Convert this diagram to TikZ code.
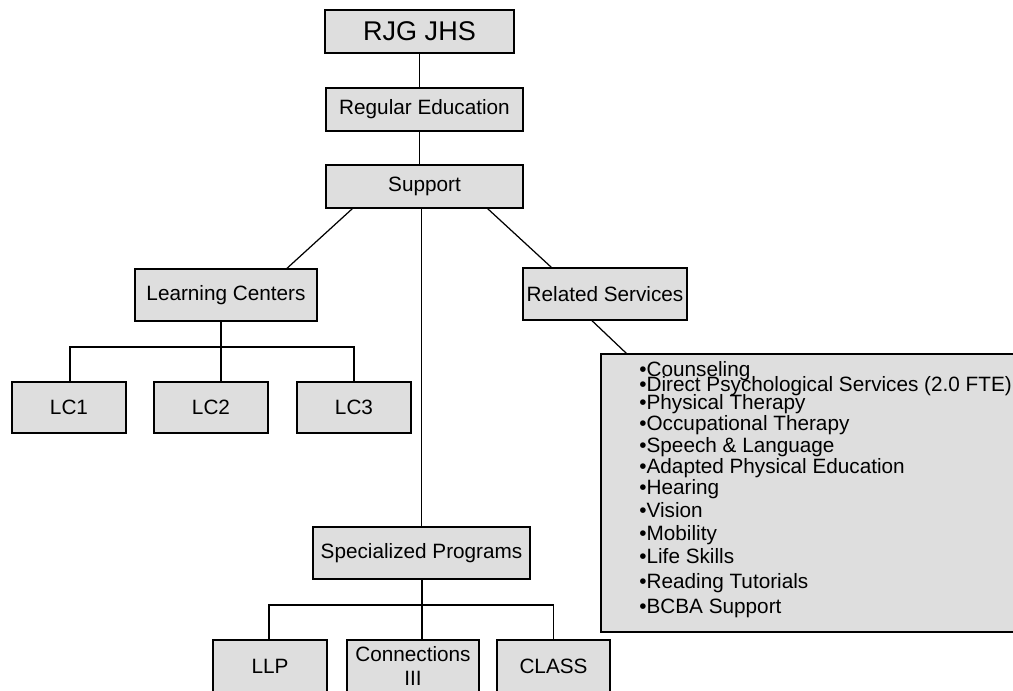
\documentclass[tikz,border=0pt]{standalone}
\usepackage{fontspec}
\setmainfont{Liberation Sans}
\usetikzlibrary{calc}
\definecolor{Stipple}{HTML}{DEDEDE}
\tikzset{
  unit/.style={draw=black,fill=Stipple,line width=.8pt,inner sep=1pt,align=center,minimum height=1.04cm,font=\fontsize{11.8}{14.5}\selectfont},
  head/.style={unit,minimum height=.86cm},
  svc/.style={anchor=base west,inner sep=0pt,font=\fontsize{11.8}{14}\selectfont},
  link/.style={draw=black,line width=.7pt},
}
\begin{document}
\begin{tikzpicture}[x=0.02cm,y=-0.02cm]
  \useasboundingbox[fill=white] (0,0) rectangle (1013,690);
  \clip (0,0) rectangle (1013,690);
  % top of the chart
  \node[head,minimum width=3.78cm,font=\fontsize{15.4}{18}\selectfont] (school) at (419.5,31.5) {RJG JHS};
  \node[head,minimum width=3.94cm] (regedu) at (424.5,109.5) {Regular Education};
  \node[head,minimum width=3.94cm] (support) at (424.5,186.5) {Support};
  \node[unit,minimum width=3.64cm] (lcenters) at (226,295) {Learning Centers};
  \node[unit,minimum width=3.28cm] (related) at (605,294) {Related Services};
  \node[unit,minimum width=4.34cm] (special) at (421.5,553) {Specialized Programs};
  % learning centers
  \node[unit,minimum width=2.28cm,minimum height=1.02cm] (lc1) at (69,407.5) {LC1};
  \node[unit,minimum width=2.28cm,minimum height=1.02cm] (lc2) at (211,407.5) {LC2};
  \node[unit,minimum width=2.28cm,minimum height=1.02cm] (lc3) at (354,407.5) {LC3};
  % programs
  \node[unit,minimum width=2.28cm] (llp) at (270,666) {LLP};
  \node[unit,minimum width=2.64cm,font=\fontsize{11.8}{13.5}\selectfont] (conn) at (413,666) {Connections\\III};
  \node[unit,minimum width=2.26cm] (class) at (553.5,666) {CLASS};
  % related services list
  \node[unit,minimum width=8.3cm,minimum height=5.56cm] (svclist) at (808.5,493) {};
  \foreach \y/\txt [count=\i] in {376/Counseling,391/{Direct Psychological Services (2.0 FTE)},409/Physical Therapy,
      430/Occupational Therapy,452/{Speech \& Language},473/Adapted Physical Education,494/Hearing,
      517/Vision,540/Mobility,563/Life Skills,588/Reading Tutorials,613/BCBA Support}
    \node[svc] (svc\i) at (639,\y) {\textbullet\txt};

  \coordinate (lcj) at (221,347);
  \coordinate (spj) at (422,605);
  \draw[link] (school.south) -- (school.south |- regedu.north);
  \draw[link] (school.south |- regedu.south) -- (school.south |- support.north);
  \draw[link] ($(support.south west)+(27,0)$) -- ($(lcenters.north)+(61,0)$);
  \draw[link] ($(support.south east)+(-36,0)$) -- ($(related.north west)+(29,0)$);
  \draw[link] ($(related.south)+(-13,0)$) -- ($(svclist.north west)+(26,0)$);
  \draw[link] (support.south -| special.north) -- (special.north);
  \draw[link] (lcj |- lcenters.south) -- (lcj) -- (lcj |- lc2.north);
  \draw[link] ($(lc1.north)+(1,0)$) |- (lc3.north |- lcj) -- (lc3.north);
  \draw[link] (spj |- special.south) -- (spj) -- (spj |- conn.north);
  \draw[link] ($(llp.north)+(-1,0)$) |- (class.north |- spj) -- (class.north);
\end{tikzpicture}
\end{document}
